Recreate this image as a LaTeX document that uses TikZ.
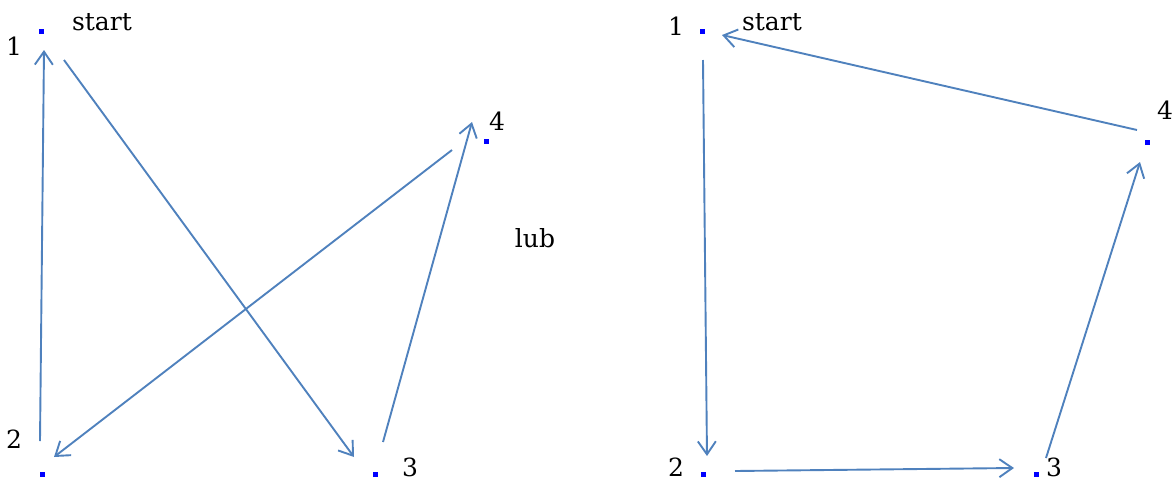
\documentclass[tikz,border=0pt]{standalone}
\usepackage{fontspec}
\setmainfont{DejaVu Serif}
\usetikzlibrary{arrows.meta}
\definecolor{lineblue}{RGB}{79,129,189}
\tikzset{
  pt/.style={fill=blue, minimum size=5pt, inner sep=0pt, outer sep=0pt},
  lbl/.style={inner sep=0pt, font=\fontsize{25}{29}\selectfont},
  conn/.style={draw=lineblue, line width=1.9pt, -{Straight Barb[length=13pt,width=18pt,line width=1.9pt]}}
}
\begin{document}
\begin{tikzpicture}[x=1pt,y=-1pt]
\useasboundingbox (0,0) rectangle (1176,480);
% left graph
\node[pt] (a1) at (41,31) {};
\node[pt] (a2) at (42,474) {};
\node[pt] (a3) at (375,474) {};
\node[pt] (a4) at (486,141) {};
\node[lbl] (la1) at (14,46) {1};
\node[lbl] (la2) at (14,439) {2};
\node[lbl] (la3) at (410,467) {3};
\node[lbl] (la4) at (497,121) {4};
\node[lbl] (lstart) at (102,22) {start};
\node[lbl] (llub) at (535,238) {lub};
\coordinate (s21) at (40,441);  \coordinate (e21) at (44,50);
\coordinate (s13) at (64,60);   \coordinate (e13) at (354,457);
\coordinate (s42) at (452,150); \coordinate (e42) at (54,457);
\coordinate (s34) at (383,442); \coordinate (e34) at (472,122);
\draw[conn] (s21) -- (e21);
\draw[conn] (s13) -- (e13);
\draw[conn] (s42) -- (e42);
\draw[conn] (s34) -- (e34);
% right graph
\node[pt] (b1) at (702,31) {};
\node[pt] (b2) at (703,474) {};
\node[pt] (b3) at (1036,474) {};
\node[pt] (b4) at (1147,142) {};
\node[lbl] (lb1) at (676,26) {1};
\node[lbl] (lb2) at (676,467) {2};
\node[lbl] (lb3) at (1054,467) {3};
\node[lbl] (lb4) at (1165,110) {4};
\node[lbl] (rstart) at (772,22) {start};
\coordinate (t12) at (703,60);   \coordinate (f12) at (707,456);
\coordinate (t23) at (735,471);  \coordinate (f23) at (1014,468);
\coordinate (t34) at (1046,458); \coordinate (f34) at (1140,162);
\coordinate (t41) at (1137,130); \coordinate (f41) at (722,35);
\draw[conn] (t12) -- (f12);
\draw[conn] (t23) -- (f23);
\draw[conn] (t34) -- (f34);
\draw[conn] (t41) -- (f41);
\end{tikzpicture}
\end{document}
